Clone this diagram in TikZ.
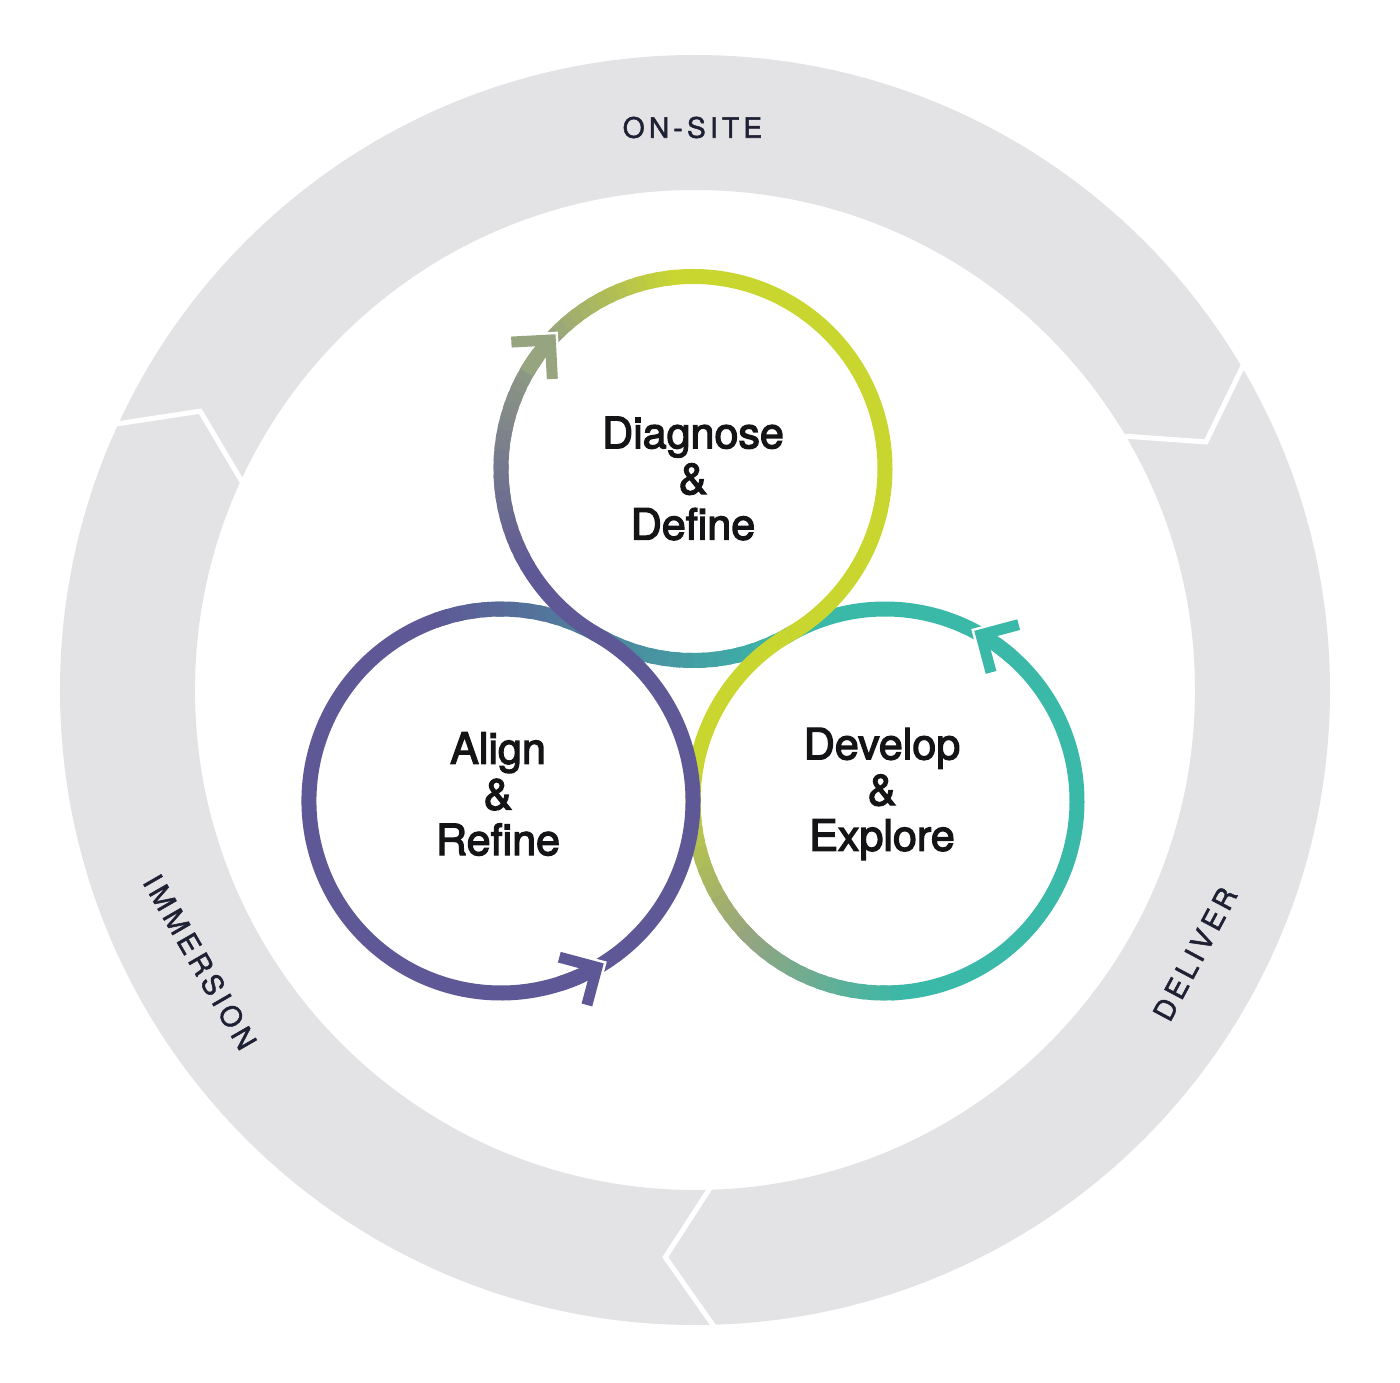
\documentclass[tikz,border=0pt]{standalone}
\usepackage{fontspec}
\setmainfont{TeX Gyre Heros}
\newfontfamily\stagefont{TeX Gyre Heros}[FakeBold=3]
\newfontfamily\ringfont{TeX Gyre Heros}[LetterSpace=15, FakeBold=1.8]
\usetikzlibrary{calc}

\definecolor{ringgray}{RGB}{227,227,229}
\definecolor{iris}{RGB}{94,89,150}
\definecolor{lime}{RGB}{201,214,48}
\definecolor{sage}{RGB}{150,164,128}
\definecolor{sea}{RGB}{58,184,168}
\definecolor{ink}{RGB}{20,20,22}
\definecolor{ringink}{RGB}{30,32,52}
\colorlet{dusk}{sea!45!iris}

\newcommand\loopr{3.84}
% arc on a loop, colour blended from #4 to #5 in #6 pieces
\newcommand\flowarc[6]{%
  \foreach \k in {1,...,#6}{
    \pgfmathsetmacro\aa{#2+(#3-#2)*(\k-1)/#6}
    \pgfmathsetmacro\bb{#2+(#3-#2)*min(\k+0.6,#6)/#6}
    \pgfmathtruncatemacro\pc{100*(\k-0.5)/#6}
    \draw[flow, #5!\pc!#4] (#1.center) ++(\aa:\loopr) arc[start angle=\aa, end angle=\bb, radius=\loopr];
  }}
% square arrow tip with a white rim
\newcommand\tipmark[5]{%
  \coordinate (t) at ($(#1.center)+(#2:\loopr)$);
  \draw[barb, white, line width=0.32cm] (t) ++(#3+135:0.78) -- (t) -- ++(#3-135:0.78);
  \draw[flow, #4] (#1.center) ++(#5:\loopr) arc[start angle=#5, end angle=#2, radius=\loopr];
  \draw[barb, #4] (t) ++(#3+135:0.78) -- (t) -- ++(#3-135:0.78);
}

\begin{document}
\begin{tikzpicture}[
    flow/.style={line width=0.3cm},
    barb/.style={line width=0.22cm, line join=miter, line cap=butt},
    stage/.style={circle, minimum size=7.68cm, inner sep=0pt},
    stagetext/.style={align=center, text=ink, inner sep=0pt,
      font=\stagefont\fontsize{24.5}{26}\selectfont},
    ringlabel/.style={font=\ringfont\fontsize{16}{18}\selectfont, text=ringink},
    sepline/.style={white, line width=0.1cm}]
  \useasboundingbox (-13.9,-13.84) rectangle (14.1,13.8);

  % outer ring
  \fill[ringgray, even odd rule] (0,0) circle (12.7) (0,0) circle (10);
  \foreach \a in {155.2, 30.5, -88.4}
    \draw[sepline] ($(\a-4.6:11.36)!1.15!(\a:12.7)$) -- (\a-4.6:11.36) -- ($(\a-4.6:11.36)!1.15!(\a:10)$);
  \node[ringlabel] (onsite) at (-0.05,11.25) {ON-SITE};
  \node[ringlabel, rotate=-60] (immersion) at (-9.9,-5.44) {IMMERSION};
  \node[ringlabel, rotate=62] (deliver) at (10.0,-5.28) {DELIVER};

  % the three loops
  \node[stage] (diag) at (-0.04,4.43) {};
  \node[stage] (align) at (-3.88,-2.22) {};
  \node[stage] (devel) at (3.80,-2.22) {};
  \node[stagetext] (diagtext) at ([yshift=-0.2cm]diag.center) {Diagnose\\\&\\Define};
  \node[stagetext] (aligntext) at ([shift={(-0.06,0.14)}]align.center) {Align\\\&\\Refine};
  \node[stagetext] (develtext) at ([shift={(-0.06,0.14)}]devel.center) {Develop\\\&\\Explore};

  % develop top -> diagnose bottom -> align
  \draw[flow, sea] (devel.center) ++(60:\loopr) arc[start angle=60, end angle=121, radius=\loopr];
  \flowarc{diag}{-60}{-120}{sea}{dusk}{16}
  \flowarc{align}{60}{110}{dusk}{iris}{12}
  \draw[flow, iris] (align.center) ++(109:\loopr) arc[start angle=109, end angle=300, radius=\loopr];

  % diagnose top -> develop
  \flowarc{diag}{138}{95}{sage}{lime}{14}
  \draw[flow, lime] (diag.center) ++(96:\loopr) arc[start angle=96, end angle=-60, radius=\loopr];
  \draw[flow, lime] (devel.center) ++(120:\loopr) arc[start angle=120, end angle=170, radius=\loopr];
  \flowarc{devel}{169}{225}{lime}{sage}{18}
  \flowarc{devel}{224}{275}{sage}{sea}{16}
  \draw[flow, sea] (devel.center) ++(274:\loopr) arc[start angle=274, end angle=420, radius=\loopr];

  % align right -> diagnose left
  \draw[flow, iris] (align.center) ++(-60:\loopr) arc[start angle=-60, end angle=60, radius=\loopr];
  \draw[flow, iris] (diag.center) ++(-120:\loopr) arc[start angle=-120, end angle=-150, radius=\loopr];
  \flowarc{diag}{-149}{-222}{iris}{sage}{24}

  % arrow tips
  \tipmark{diag}{138}{48}{sage}{150}
  \tipmark{devel}{60}{150}{sea}{48}
  \tipmark{align}{-60}{30}{iris}{-72}
\end{tikzpicture}
\end{document}
